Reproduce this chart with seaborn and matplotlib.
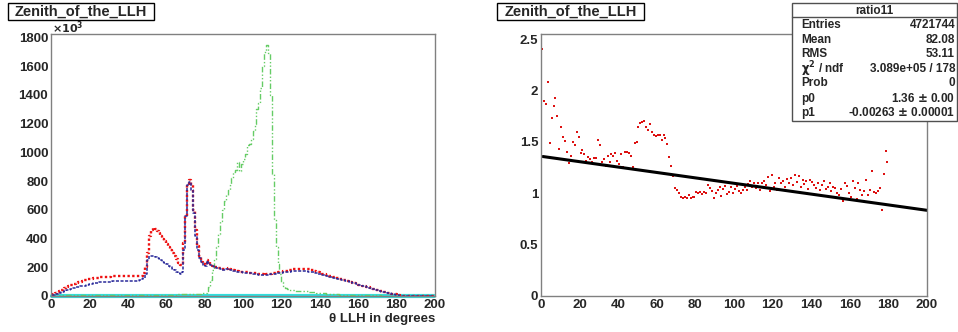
import numpy as np
import pandas as pd
import matplotlib
matplotlib.use("Agg")
import matplotlib.pyplot as plt
from matplotlib.patches import Rectangle
from matplotlib.ticker import MultipleLocator, FuncFormatter
import seaborn as sns

# bin centres, 1 degree bins from 0 to 200
theta = np.arange(200) + 0.5

# counts in units of 10^3
red = [8, 15, 22, 30, 38, 45, 52, 58, 64, 70,
       75, 80, 85, 90, 95, 100, 104, 108, 112, 115,
       118, 120, 123, 125, 127, 129, 131, 132, 133, 134,
       135, 136, 137, 138, 138, 139, 139, 140, 140, 140,
       140, 140, 140, 140, 140, 140, 140, 142, 160, 200,
       300, 420, 460, 470, 465, 455, 440, 420, 400, 380,
       360, 340, 320, 300, 280, 255, 230, 215, 220, 370,
       560, 780, 810, 770, 600, 460, 350, 280, 240, 220,
       215, 250, 235, 220, 210, 205, 200, 195, 192, 188,
       185, 190, 192, 185, 180, 178, 175, 172, 170, 168,
       167, 165, 164, 163, 162, 160, 158, 157, 155, 152,
       150, 148, 150, 152, 155, 158, 160, 162, 165, 168,
       170, 172, 175, 177, 180, 182, 185, 187, 188, 190,
       190, 190, 189, 187, 185, 182, 178, 174, 170, 165,
       160, 156, 152, 148, 144, 140, 136, 132, 128, 124,
       120, 116, 112, 108, 104, 100, 96, 92, 88, 84,
       80, 76, 72, 68, 64, 60, 56, 52, 48, 44,
       40, 36, 32, 29, 26, 23, 20, 17, 14, 11,
       6, 4, 3, 3, 3, 2, 2, 2, 2, 2,
       2, 2, 2, 2, 2, 2, 2, 2, 2, 2]

blue = [4, 8, 12, 16, 20, 25, 30, 35, 40, 45,
        50, 54, 58, 61, 64, 67, 70, 73, 76, 79,
        82, 85, 88, 91, 93, 95, 97, 99, 100, 98,
        97, 99, 101, 103, 104, 104, 105, 105, 106, 106,
        106, 105, 104, 103, 103, 104, 108, 115, 125, 150,
        250, 275, 280, 278, 272, 265, 258, 250, 240, 230,
        220, 210, 200, 190, 180, 170, 160, 155, 165, 320,
        560, 770, 790, 740, 580, 420, 320, 265, 235, 215,
        210, 245, 232, 218, 208, 202, 197, 192, 188, 184,
        182, 188, 190, 183, 178, 175, 172, 170, 167, 165,
        163, 162, 160, 159, 157, 155, 153, 151, 149, 147,
        145, 143, 145, 148, 150, 152, 155, 157, 160, 162,
        163, 165, 167, 168, 170, 171, 172, 173, 174, 175,
        175, 175, 174, 172, 170, 167, 164, 160, 157, 153,
        150, 147, 143, 140, 137, 133, 130, 127, 123, 120,
        116, 113, 110, 106, 103, 99, 95, 91, 87, 83,
        79, 75, 71, 67, 63, 59, 55, 51, 47, 43,
        39, 35, 31, 28, 25, 22, 19, 16, 13, 10,
        5, 3, 2, 2, 2, 2, 2, 2, 2, 2,
        2, 2, 2, 2, 2, 2, 2, 2, 2, 2]

green = [3, 3, 3, 4, 4, 4, 5, 5, 5, 5,
         5, 5, 5, 6, 6, 6, 6, 6, 6, 6,
         6, 6, 6, 6, 6, 6, 6, 6, 7, 7,
         7, 7, 7, 7, 7, 7, 7, 7, 7, 7,
         7, 7, 7, 7, 7, 7, 8, 8, 8, 8,
         8, 8, 8, 8, 9, 9, 9, 9, 9, 9,
         10, 10, 10, 10, 10, 10, 11, 11, 11, 12,
         12, 12, 13, 13, 14, 15, 16, 17, 18, 20,
         22, 32, 60, 110, 180, 260, 340, 430, 520, 600,
         660, 700, 740, 780, 820, 860, 880, 930, 870, 920,
         950, 990, 1050, 1060, 1090, 1150, 1200, 1300, 1340, 1450,
         1600, 1700, 1745, 1690, 1400, 850, 530, 340, 220, 150,
         100, 70, 55, 48, 44, 42, 40, 38, 37, 36,
         35, 34, 38, 33, 30, 28, 27, 25, 24, 22,
         20, 19, 18, 17, 16, 15, 14, 13, 12, 11,
         10, 10, 9, 9, 8, 8, 8, 7, 7, 7,
         6, 6, 6, 5, 5, 5, 5, 4, 4, 4,
         4, 4, 3, 3, 3, 3, 3, 3, 3, 3,
         2, 2, 2, 2, 2, 2, 2, 2, 2, 2,
         2, 2, 2, 2, 2, 2, 2, 2, 2, 2]

cyan = [3] * 200

# ratio per bin, 0..179
ratio = [2.40, 1.90, 1.87, 2.08, 1.49, 1.73, 1.85, 1.93, 1.75, 1.43,
         1.64, 1.55, 1.51, 1.40, 1.29, 1.36, 1.50, 1.47, 1.60, 1.55,
         1.39, 1.42, 1.38, 1.31, 1.35, 1.33, 1.30, 1.34, 1.34, 1.52,
         1.47, 1.30, 1.33, 1.27, 1.36, 1.30, 1.38, 1.36, 1.39, 1.31,
         1.28, 1.38, 1.26, 1.40, 1.40, 1.39, 1.36, 1.26, 1.49, 1.50,
         1.64, 1.68, 1.69, 1.70, 1.64, 1.62, 1.67, 1.60, 1.57, 1.56,
         1.57, 1.57, 1.52, 1.57, 1.54, 1.48, 1.35, 1.27, 1.17, 1.05,
         1.03, 1.00, 0.96, 0.95, 0.96, 0.95, 0.98, 0.95, 0.96, 0.96,
         1.01, 1.00, 1.01, 0.99, 1.01, 1.00, 1.08, 1.05, 1.02, 0.95,
         1.00, 1.03, 1.06, 0.97, 1.04, 1.07, 0.99, 1.01, 1.06, 1.00,
         1.04, 1.07, 1.02, 1.00, 1.03, 1.06, 1.03, 1.09, 1.12, 1.06,
         1.10, 1.05, 1.10, 1.03, 1.10, 1.12, 1.08, 1.16, 1.02, 1.18,
         1.06, 1.10, 1.03, 1.15, 1.10, 1.12, 1.06, 1.14, 1.10, 1.15,
         1.08, 1.18, 1.11, 1.17, 1.06, 1.13, 1.09, 1.12, 1.04, 1.13,
         1.11, 1.08, 1.05, 1.10, 1.03, 1.08, 1.12, 1.04, 1.06, 1.10,
         1.02, 1.06, 1.05, 1.00, 0.98, 1.04, 0.92, 1.10, 1.07, 1.00,
         0.96, 1.12, 1.05, 0.94, 1.10, 1.03, 0.98, 1.02, 1.13, 0.98,
         1.03, 1.22, 1.01, 1.00, 1.02, 1.05, 0.84, 1.19, 1.41, 1.30]

p0, p1 = 1.36, -0.00263
stats_labels = ["Entries", "Mean", "RMS", r"$\chi^{2}$ / ndf", "Prob", "p0", "p1"]
stats_values = ["4721744", "82.08", "53.11", "3.089e+05 / 178", "0",
                "1.36 $\\pm$ 0.00", "-0.00263 $\\pm$ 0.00001"]

sns.set_style("white")
plt.rcParams['font.family'] = ['Liberation Sans', 'DejaVu Sans']
plt.rcParams['font.weight'] = 'bold'
plt.rcParams['mathtext.default'] = 'bf'

W, H = 958, 332
fig = plt.figure(figsize=(W / 100, H / 100), dpi=100)


def px_axes(x0, y0, x1, y1):
    return fig.add_axes([x0 / W, 1 - y1 / H, (x1 - x0) / W, (y1 - y0) / H])


def root_style(ax, ymajor, yminor):
    for s in ax.spines.values():
        s.set_color('#808080')
        s.set_linewidth(1.0)
    ax.xaxis.set_major_locator(MultipleLocator(20))
    ax.xaxis.set_minor_locator(MultipleLocator(4))
    ax.yaxis.set_major_locator(MultipleLocator(ymajor))
    ax.yaxis.set_minor_locator(MultipleLocator(yminor))
    ax.tick_params(axis='both', which='both', direction='in', color='#606060',
                   labelsize=9.5, top=False, right=False)
    ax.tick_params(axis='y', which='major', length=11, pad=2)
    ax.tick_params(axis='y', which='minor', length=6)
    ax.tick_params(axis='x', which='major', length=8, pad=2)
    ax.tick_params(axis='x', which='minor', length=4)
    ax.set_xlabel("")
    ax.set_ylabel("")


def bold_ticks(ax):
    for t in ax.xaxis.get_major_ticks() + ax.yaxis.get_major_ticks():
        t.label1.set_fontweight('bold')


def title_box(x0, x1, text):
    fig.patches.append(Rectangle((x0 / W, 1 - 20 / H), (x1 - x0) / W, 17 / H,
                                 transform=fig.transFigure, facecolor='white',
                                 edgecolor='black', linewidth=1, zorder=5))
    fig.text((x0 + x1) / 2 / W, 1 - 11.5 / H, text, ha='center', va='center',
             fontsize=10.5, fontweight='bold', zorder=6)


# left panel: the histograms
ax1 = px_axes(51, 34, 435, 296)
df = pd.DataFrame({"theta": theta, "red": red, "blue": blue, "green": green, "cyan": cyan})
sns.lineplot(data=df, x="theta", y="cyan", ax=ax1, color='#33dddd', linewidth=3,
             drawstyle='steps-mid', clip_on=False)
sns.lineplot(data=df, x="theta", y="green", ax=ax1, color='#66cc66', linewidth=1.0,
             linestyle=(0, (4, 1.5, 1, 1.5, 1, 1.5)), drawstyle='steps-mid')
sns.lineplot(data=df, x="theta", y="red", ax=ax1, color='#ee1111', linewidth=1.7,
             linestyle=(0, (1, 1)), drawstyle='steps-mid')
sns.lineplot(data=df, x="theta", y="blue", ax=ax1, color='#2a2a9a', linewidth=1.1,
             linestyle=(0, (2, 1)), drawstyle='steps-mid')
ax1.set_xlim(0, 200)
ax1.set_ylim(0, 1823)
root_style(ax1, 200, 40)
fig.text(52 / W, 1 - 28 / H, r"$\times10^{3}$", fontsize=8, ha='left', va='center')
fig.text(435 / W, 1 - 319 / H, "\u03b8 LLH in degrees", ha='right', va='center',
         fontsize=9.5, fontweight='bold')
title_box(8, 154, "Zenith_of_the_LLH")

# right panel: the ratio with a linear fit
ax2 = px_axes(541, 34, 927, 296)
rdf = pd.DataFrame({"theta": theta[:len(ratio)], "ratio": ratio})
sns.scatterplot(data=rdf, x="theta", y="ratio", ax=ax2, color='#dd1111', marker='s',
                s=3.5, linewidth=0)
fit_x = np.arange(1, 201)
sns.lineplot(x=fit_x, y=p0 + p1 * fit_x, ax=ax2, color='black', linewidth=2.2)
ax2.set_xlim(0, 200)
ax2.set_ylim(0, 2.55)
root_style(ax2, 0.5, 0.1)
ax2.yaxis.set_major_formatter(FuncFormatter(lambda v, p: f"{v:g}"))
title_box(497, 644, "Zenith_of_the_LLH")

# stats box
bx0, by0, bx1, by1 = 792, 3, 957, 121
fig.patches.append(Rectangle((bx0 / W, 1 - by1 / H), (bx1 - bx0) / W, (by1 - by0) / H,
                             transform=fig.transFigure, facecolor='white',
                             edgecolor='#505050', linewidth=1, zorder=5))
fig.lines.append(plt.Line2D([bx0 / W, bx1 / W], [1 - 17 / H, 1 - 17 / H],
                            transform=fig.transFigure, color='#505050', linewidth=1,
                            zorder=6))
fig.text((bx0 + bx1) / 2 / W, 1 - 10.5 / H, "ratio11", ha='center', va='center',
         fontsize=8.5, fontweight='bold', zorder=7)
rows_y = [25, 40, 54, 69, 83, 99, 113]
for lab, val, yy in zip(stats_labels, stats_values, rows_y):
    fig.text(801 / W, 1 - yy / H, lab, ha='left', va='center', fontsize=8.5,
             fontweight='bold', zorder=7)
    fig.text(955 / W, 1 - yy / H, val, ha='right', va='center', fontsize=8.5,
             fontweight='bold', zorder=7)

fig.canvas.draw()
bold_ticks(ax1)
bold_ticks(ax2)
fig.savefig("out.png", dpi=100, facecolor='white')
